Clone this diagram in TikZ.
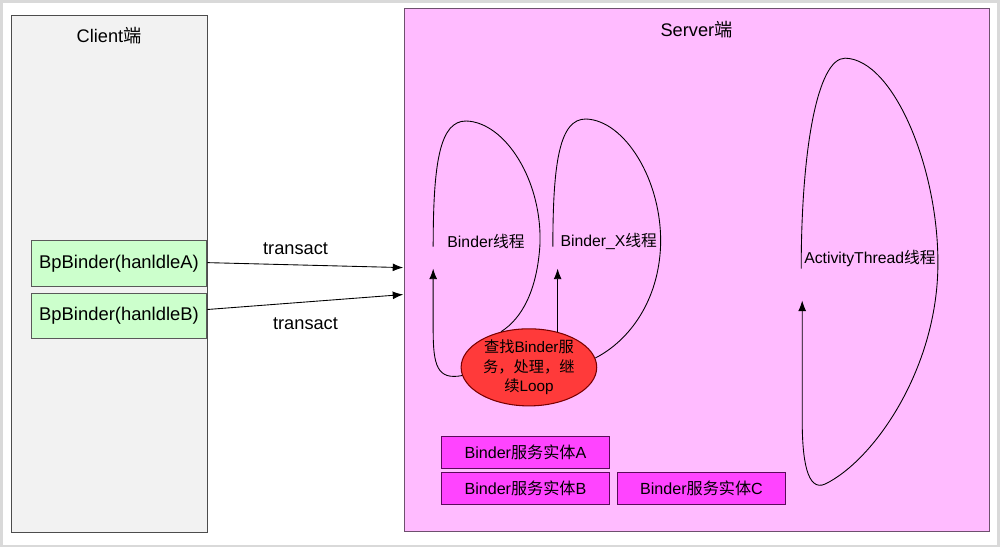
\documentclass[tikz,border=0pt]{standalone}
\usepackage{fontspec}
\setmainfont{Liberation Sans}
\newfontfamily\cjk{Noto Sans CJK SC}
\usetikzlibrary{shapes.geometric, arrows.meta, positioning}
\definecolor{clientbg}{RGB}{242,242,242}
\definecolor{serverbg}{RGB}{255,187,255}
\definecolor{serverline}{RGB}{110,80,110}
\definecolor{proxyfill}{RGB}{204,255,204}
\definecolor{entityfill}{RGB}{255,68,255}
\definecolor{entityline}{RGB}{90,10,90}
\definecolor{loopfill}{RGB}{255,58,58}
\definecolor{loopline}{RGB}{120,0,0}

\begin{document}
\begin{tikzpicture}[x=0.02cm, y=-0.02cm,
    panel/.style={rectangle, draw, line width=0.7pt},
    proxy/.style={rectangle, draw=black!65, fill=proxyfill, line width=0.6pt,
                  minimum width=3.52cm, minimum height=0.92cm,
                  font=\fontsize{10.5}{12}\selectfont},
    entity/.style={rectangle, draw=entityline, fill=entityfill, line width=0.6pt,
                   minimum width=3.38cm, minimum height=0.64cm,
                   font=\fontsize{9.2}{11}\selectfont},
    thread/.style={font=\fontsize{9}{11}\selectfont},
    call/.style={-{Latex[length=6pt,width=4.5pt]}, line width=0.5pt}]

    % frame of the page
    \draw[black!15, line width=1.5pt, fill=white] (0,0) rectangle (1000,546);

    % Client side
    \node[panel, draw=black!70, fill=clientbg, minimum width=3.92cm, minimum height=10.36cm] (client) at (108.5,273.5) {};
    \node[font=\fontsize{10.4}{12}\selectfont] (clienttitle) at (108,34) {Client{\cjk 端}};

    % Server side
    \node[panel, draw=serverline, fill=serverbg, minimum width=11.74cm, minimum height=10.5cm] (server) at (697.5,269.5) {};
    \node[font=\fontsize{10.4}{12}\selectfont] (servertitle) at (697,28) {Server{\cjk 端}};

    % proxies
    \node[proxy] (bpA) at (118,263) {BpBinder(hanldleA)};
    \node[proxy] (bpB) at (118,315.5) {BpBinder(hanldleB)};

    % transact calls
    \coordinate (inA) at (403,267);
    \coordinate (inB) at (403,294);
    \draw[call] ([yshift=0.02cm]bpA.east) -- (inA);
    \draw[call] ([yshift=0.13cm]bpB.east) -- (inB);
    \node[font=\fontsize{10.4}{12}\selectfont] (lblA) at (295,248) {transact};
    \node[font=\fontsize{10.4}{12}\selectfont] (lblB) at (305,323) {transact};

    % looper
    \node[ellipse, draw=loopline, fill=loopfill, line width=0.6pt, inner sep=0pt,
          minimum width=2.72cm, minimum height=1.34cm, align=center,
          font=\fontsize{8.7}{11}\selectfont] (worker) at (529,367)
          {{\cjk 查找}Binder{\cjk 服}\\{\cjk 务，处理，继}\\{\cjk 续}Loop};

    % thread labels
    \node[thread] (binder) at (486,241) {Binder{\cjk 线程}};
    \node[thread] (binderx) at (609,241) {Binder\_X{\cjk 线程}};
    \node[thread] (activity) at (871,258) {ActivityThread{\cjk 线程}};

    % Binder loop
    \coordinate (b1top) at (433,246);
    \coordinate (b1in) at (433,268);
    \draw[line width=0.5pt] (b1top) .. controls (433,160) and (440,120) .. (466,120)
        .. controls (505,121) and (543,180) .. (540,245)
        .. controls (537,290) and (522,318) .. (worker.128);
    \draw[call] (worker.187) .. controls (437,380) and (433,365) .. (433,330) -- (b1in);

    % Binder_X loop
    \coordinate (b2top) at (553,246);
    \coordinate (b2in) at (554,268);
    \draw[line width=0.5pt] (b2top) .. controls (553,160) and (560,118) .. (586,118)
        .. controls (625,119) and (663,180) .. (661,245)
        .. controls (659,300) and (630,340) .. (worker.8);
    \draw[call] (worker.51) -- (worker.51 |- b2in);

    % ActivityThread loop
    \coordinate (a1top) at (802,268);
    \coordinate (a1in) at (803,300);
    \draw[call] (a1top) .. controls (802,150) and (818,57) .. (846,57)
        .. controls (895,58) and (941,170) .. (939,268)
        .. controls (937,370) and (875,460) .. (826,484)
        .. controls (808,492) and (803,460) .. (803,420) -- (a1in);

    % service entities
    \node[entity] (entA) at (525.5,452) {Binder{\cjk 服务实体}A};
    \node[entity] (entB) at (525.5,488.5) {Binder{\cjk 服务实体}B};
    \node[entity] (entC) at (702,488.5) {Binder{\cjk 服务实体}C};
\end{tikzpicture}
\end{document}
